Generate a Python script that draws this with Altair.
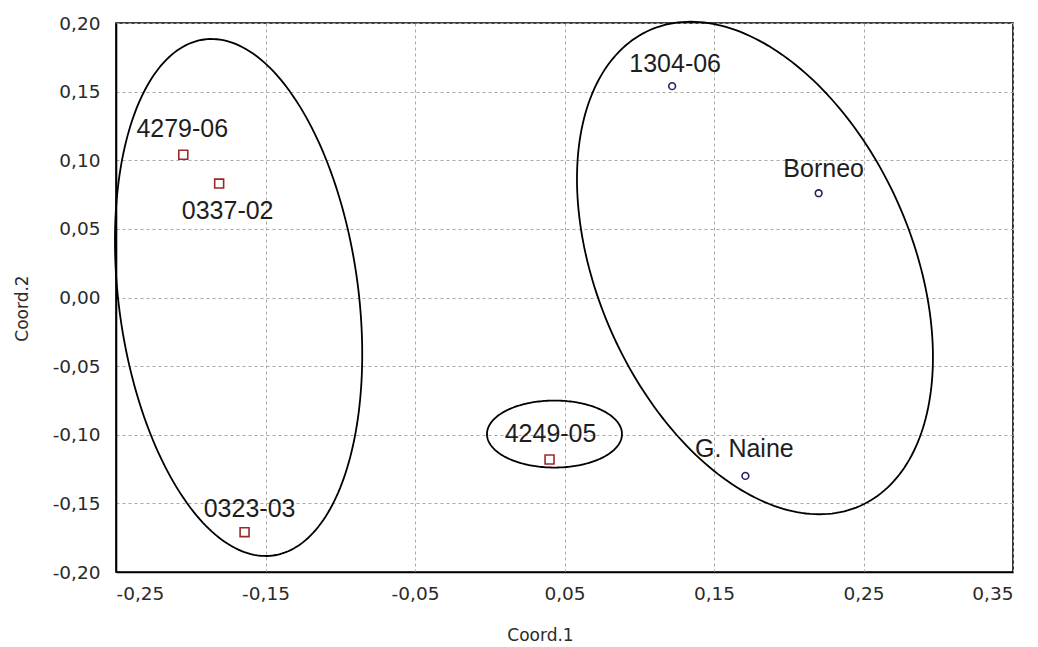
import altair as alt
import numpy as np
import pandas as pd

# ---- data ----
names = ["4279-06", "0337-02", "0323-03", "4249-05", "1304-06", "Borneo", "G. Naine"]
coord1 = [-0.205, -0.181, -0.164, 0.040, 0.122, 0.220, 0.171]
coord2 = [0.104, 0.083, -0.171, -0.118, 0.154, 0.076, -0.130]
groups = ["A", "A", "A", "A", "B", "B", "B"]

x_ticks = [-0.25, -0.15, -0.05, 0.05, 0.15, 0.25, 0.35]
y_ticks = [-0.20, -0.15, -0.10, -0.05, 0.00, 0.05, 0.10, 0.15, 0.20]

# ---- annotation geometry (label offsets in px, ellipses) ----
label_dx = [-1, 8.5, 5, 1, 3, 5, -1]
label_dy = [-18, 35, -15, -17, -14, -16, -19]

ell_cx = [-0.168, 0.1774, 0.0433]
ell_cy = [0.0, 0.0215, -0.0995]
ell_a = [260.3, 260.1, 33.5]     # semi-axis along the (tilted) vertical, px
ell_b = [119.8, 157.1, 67.5]     # semi-axis along the (tilted) horizontal, px
ell_tilt = [7.6, 23.8, 0.0]      # degrees, top leaning left

W, H = 897, 549
XDOM = [-0.25, 0.35]
YDOM = [-0.20, 0.20]
px_x = W / (XDOM[1] - XDOM[0])
px_y = H / (YDOM[1] - YDOM[0])

pts = pd.DataFrame({"name": names, "x": coord1, "y": coord2, "g": groups})
pts["lx"] = [x + dx / px_x for x, dx in zip(coord1, label_dx)]
pts["ly"] = [y - dy / px_y for y, dy in zip(coord2, label_dy)]

rows = []
for k in range(len(ell_cx)):
    th = np.radians(ell_tilt[k])
    for i, t in enumerate(np.linspace(0, 2 * np.pi, 241)):
        u = ell_b[k] * np.cos(t)
        v = ell_a[k] * np.sin(t)
        sx = u * np.cos(th) - v * np.sin(th)
        sy = -u * np.sin(th) - v * np.cos(th)
        rows.append({"e": k, "i": i,
                     "x": ell_cx[k] + sx / px_x,
                     "y": ell_cy[k] - sy / px_y})
ell = pd.DataFrame(rows)

lab_expr = "replace(replace(format(datum.value, '.2f'), '.', ','), '\u2212', '-')"

xs = alt.Scale(domain=XDOM, nice=False, zero=False)
ys = alt.Scale(domain=YDOM, nice=False, zero=False)

x_axis = alt.Axis(values=x_ticks, labelExpr=lab_expr, title="Coord.1",
                  grid=True, ticks=False, labelPadding=12,
                  titleX=424, titleY=63, titleBaseline="middle",
                  titleAlign="center", titleAnchor="start")
y_axis = alt.Axis(values=y_ticks, labelExpr=lab_expr, title="Coord.2",
                  grid=True, ticks=False, labelPadding=16,
                  titleX=-94, titleY=285, titleBaseline="middle",
                  titleAlign="center", titleAnchor="start")

base_pts = alt.Chart(pts)

points = base_pts.mark_point(filled=False, strokeWidth=1.6, opacity=1).encode(
    x=alt.X("x:Q", scale=xs, axis=x_axis),
    y=alt.Y("y:Q", scale=ys, axis=y_axis),
    shape=alt.Shape("g:N", scale=alt.Scale(domain=["A", "B"], range=["square", "circle"]), legend=None),
    color=alt.Color("g:N", scale=alt.Scale(domain=["A", "B"], range=["#9a2a2a", "#22225e"]), legend=None),
    size=alt.Size("g:N", scale=alt.Scale(domain=["A", "B"], range=[80, 45]), legend=None),
)

labels = base_pts.mark_text(font="Liberation Sans", fontSize=25, color="#1e1e1e",
                            align="center", baseline="alphabetic").encode(
    x=alt.X("lx:Q", scale=xs),
    y=alt.Y("ly:Q", scale=ys),
    text="name:N",
)

ellipses = alt.Chart(ell).mark_line(color="black", strokeWidth=1.8).encode(
    x=alt.X("x:Q", scale=xs),
    y=alt.Y("y:Q", scale=ys),
    detail="e:N",
    order="i:Q",
)

chart = alt.layer(ellipses, points, labels).properties(
    width=W, height=H,
    autosize=alt.AutoSizeParams(type="none"),
    padding={"left": 108, "top": 15, "right": 17, "bottom": 75},
    background="white",
).configure_view(
    stroke="black", strokeWidth=1.6
).configure_axis(
    domainColor="black", domainWidth=1.6,
    gridColor="#a8a8a8", gridDash=[3, 3], gridWidth=1,
    labelFont="DejaVu Sans", labelFontSize=18.5, labelColor="#2a2a2a",
    titleFont="DejaVu Sans", titleFontSize=17, titleFontWeight="normal", titleColor="#2a2a2a",
)

chart.save("out.html", embed_options={"renderer": "svg", "actions": False})
